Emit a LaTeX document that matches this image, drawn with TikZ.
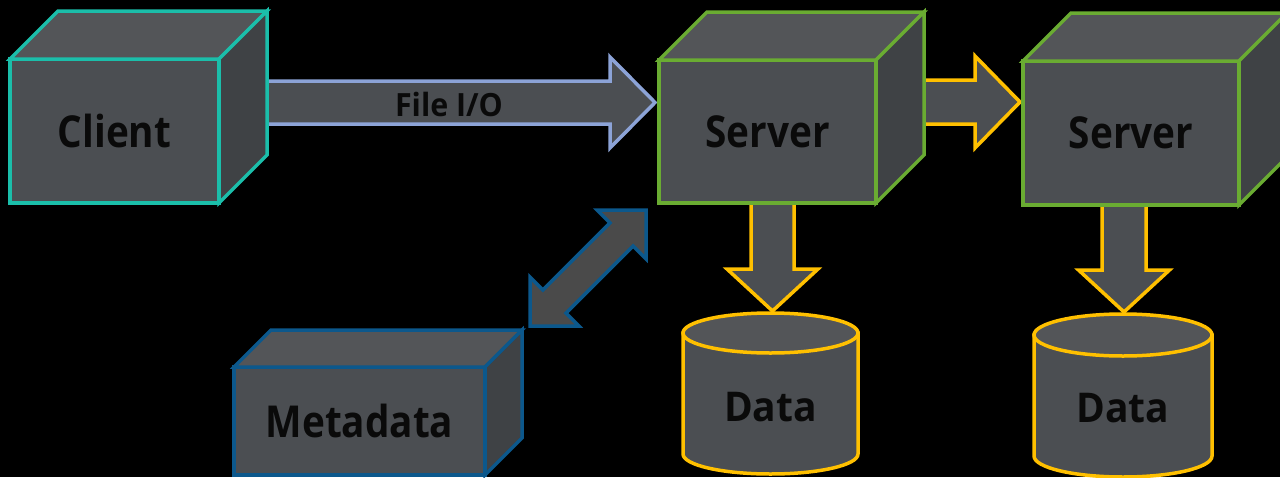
\documentclass[tikz,border=0pt]{standalone}
\usepackage{fontspec}
\setmainfont{Open Sans}[FakeStretch=0.88]
\newfontfamily\widelabel{Open Sans}[FakeStretch=0.95]
\usetikzlibrary{calc}

\pgfdeclarelayer{backdrop}
\pgfdeclarelayer{links}
\pgfsetlayers{backdrop,links,main}

\definecolor{clientc}{RGB}{27,190,170}
\definecolor{serverc}{RGB}{106,172,50}
\definecolor{metac}{RGB}{12,88,140}
\definecolor{ioc}{RGB}{140,163,215}
\definecolor{goldc}{RGB}{255,192,0}
\definecolor{facec}{RGB}{75,78,82}
\definecolor{topc}{RGB}{83,85,88}
\definecolor{sidec}{RGB}{63,66,69}
\definecolor{inkc}{RGB}{10,10,10}
\definecolor{dblc}{RGB}{74,74,74}

\tikzset{
  frontface/.style={rectangle, fill=facec, line width=3.5pt, outer sep=0pt,
    inner sep=0pt, text=inkc, font=\bfseries\fontsize{44}{44}\selectfont},
  topface/.style={fill=topc, line width=3.5pt, line join=miter},
  sideface/.style={fill=sidec, line width=3.5pt, line join=miter},
  flow/.style={fill=facec, line width=3.5pt, line join=miter},
  cylbody/.style={rectangle, inner sep=0pt, outer sep=0pt},
  cylside/.style={fill=facec, draw=goldc, line width=3.5pt},
  cyltop/.style={fill=topc, draw=goldc, line width=3.5pt},
  datalabel/.style={text=inkc, inner sep=0pt, font=\widelabel\bfseries\fontsize{41}{41}\selectfont},
  iolabel/.style={text=inkc, inner sep=0pt, font=\widelabel\bfseries\fontsize{32}{32}\selectfont}
}

% box with a front face node, a top face and a right face
% #1 name, #2 x, #3 y (front top-left), #4 width, #5 height, #6 depth, #7 colour, #8 text
\newcommand{\cubebox}[8]{%
  \node[frontface, draw=#7, minimum width=#4pt, minimum height=#5pt,
        anchor=north west] (#1) at (#2,#3) {\raisebox{-3pt}{#8}};
  \draw[topface, draw=#7] (#1.north west) -- ++(#6,-#6)
        -- ($(#1.north east)+(#6,-#6)$) -- (#1.north east) -- cycle;
  \draw[sideface, draw=#7] (#1.north east) -- ++(#6,-#6)
        -- ($(#1.south east)+(#6,-#6)$) -- (#1.south east) -- cycle;
}

% block arrow: #1 style, #2 start, #3 tip, #4 shaft half width,
% #5 head half width, #6 head length
\newcommand{\blockarrow}[6]{%
  \coordinate (#2-#3-h) at ($(#3)!#6pt!(#2)$);
  \draw[#1] ($(#2)!#4pt!90:(#3)$)
     -- ($(#2-#3-h)!#4pt!-90:(#2)$) -- ($(#2-#3-h)!#5pt!-90:(#2)$)
     -- (#3)
     -- ($(#2-#3-h)!#5pt!90:(#2)$) -- ($(#2-#3-h)!#4pt!90:(#2)$)
     -- ($(#2)!#4pt!-90:(#3)$) -- cycle;
}

% block arrow with a head at both ends
\newcommand{\twowayarrow}[6]{%
  \coordinate (#2-#3-ha) at ($(#2)!#6pt!(#3)$);
  \coordinate (#2-#3-hb) at ($(#3)!#6pt!(#2)$);
  \draw[#1] (#2)
     -- ($(#2-#3-ha)!#5pt!90:(#3)$) -- ($(#2-#3-ha)!#4pt!90:(#3)$)
     -- ($(#2-#3-hb)!#4pt!-90:(#2)$) -- ($(#2-#3-hb)!#5pt!-90:(#2)$)
     -- (#3)
     -- ($(#2-#3-hb)!#5pt!90:(#2)$) -- ($(#2-#3-hb)!#4pt!90:(#2)$)
     -- ($(#2-#3-ha)!#4pt!-90:(#3)$) -- ($(#2-#3-ha)!#5pt!-90:(#3)$)
     -- cycle;
}

% data store: #1 name, #2 centre x, #3 top ellipse y, #4 bottom ellipse y,
% #5 x radius, #6 y radius, #7 body height
\newcommand{\datastore}[7]{%
  \node[cylbody, minimum width=2*#5pt, minimum height=#7pt] (#1) at (#2,{(#3+#4)/2}) {};
  \draw[cylside] (#1.north west) -- (#1.south west)
     arc[start angle=180, end angle=360, x radius=#5pt, y radius=#6pt]
     -- (#1.north east) -- cycle;
  \draw[cyltop] (#1.north) ellipse[x radius=#5pt, y radius=#6pt];
}

\begin{document}
\begin{tikzpicture}[x=1pt,y=-1pt]
  \begin{pgfonlayer}{backdrop}
    \fill[black] (0,0) rectangle (1280,477);
  \end{pgfonlayer}
  \useasboundingbox (0,0) rectangle (1280,477);

  % boxes
  \cubebox{client}{10}{59}{209}{144}{48}{clientc}{Client}
  \cubebox{srvA}{659}{60}{217}{143}{48}{serverc}{Server}
  \cubebox{srvB}{1023}{61}{216}{144}{48}{serverc}{Server}
  \cubebox{meta}{234}{367}{251}{108}{37}{metac}{Metadata}

  % data stores
  \datastore{dataA}{770.5}{333}{454}{87.5}{20}{121}
  \datastore{dataB}{1123}{335}{456}{89}{21}{121}
  \node[datalabel] (dataA-l) at (770.5,407) {Data};
  \node[datalabel] (dataB-l) at (1123,408) {Data};

  % arrow end points
  \coordinate (io-a)  at (266,102.5);
  \coordinate (io-b)  at (655,102.5);
  \coordinate (rep-a) at (922,102);
  \coordinate (rep-b) at (1020,102);
  \coordinate (da-a)  at (772.5,203);
  \coordinate (da-b)  at (772.5,311);
  \coordinate (db-a)  at (1124,205);
  \coordinate (db-b)  at (1124,312);
  \coordinate (md-a)  at (530,326);
  \coordinate (md-b)  at (646,210);

  \begin{pgfonlayer}{links}
    \blockarrow{flow, draw=ioc}{io-a}{io-b}{21.5}{45.5}{45}
    \blockarrow{flow, draw=goldc}{rep-a}{rep-b}{22}{46}{45}
    \blockarrow{flow, draw=goldc}{da-a}{da-b}{21.5}{45.5}{42}
    \blockarrow{flow, draw=goldc}{db-a}{db-b}{22}{45.5}{42}
    \twowayarrow{flow, fill=dblc, draw=metac}{md-a}{md-b}{16.3}{34.6}{34.6}
  \end{pgfonlayer}

  \node[iolabel] (io-l) at (449,104) {File I/O};
\end{tikzpicture}
\end{document}
